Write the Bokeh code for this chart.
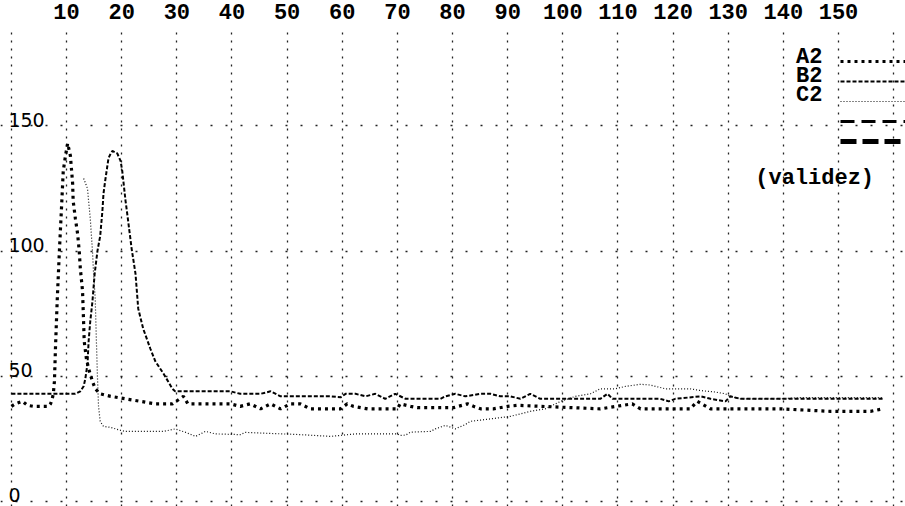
from bokeh.plotting import figure
from bokeh.models import FixedTicker, Legend, LegendItem, Label
from bokeh.core.properties import value
from bokeh.embed import file_html
from bokeh.resources import INLINE

# ---- data ----
x_ticks = [10, 20, 30, 40, 50, 60, 70, 80, 90, 100, 110, 120, 130, 140, 150]
x_grid = [0, 10, 20, 30, 40, 50, 60, 70, 80, 90, 100, 110, 120, 130, 140, 150, 160]
y_ticks = [0, 50, 100, 150]
y_tick_labels = ["0", "50", "100", "150"]

A2_x = [0, 0.7, 2.0, 2.9, 4.0, 6.7, 7.1, 7.4, 7.6, 7.8, 8.0, 8.3, 8.7, 9.1, 9.4, 9.8, 10.2, 10.7, 11.1, 11.2,
        11.6, 12.0, 12.3, 12.5, 12.9, 13.1, 13.2, 13.6, 14.0, 14.7, 15.2, 16.1, 18.0, 20.7, 23.4, 26.1, 29.2,
        31.2, 32.0, 34.3, 39.7, 41.5, 43.3, 45.2, 47.0, 48.8, 50.6, 52.4, 54.2, 59.7, 60.9, 62.0, 64.6, 70.0,
        70.5, 72.4, 73.6, 80.2, 82.7, 83.8, 85.1, 87.4, 90.0, 91.8, 106.8, 112.6, 114.1, 123.1, 124.4, 126.8,
        139.5, 148.5, 155.8, 158.0]
A2_y = [38, 39, 40, 38.4, 38, 38, 39, 41, 43, 48, 62, 80, 100, 118, 132, 138, 143, 138, 127, 120,
        113, 107, 100, 93, 84, 71, 64, 57, 53, 48, 45, 43, 42, 41, 40, 39, 39,
        42, 39, 39, 39, 38, 39, 37, 39, 37, 39, 39, 37, 37, 39, 38, 37, 37,
        39, 38, 37.5, 37.5, 39, 38, 37, 37, 38, 38.4, 37, 39, 37, 37, 40, 37,
        37, 36, 36, 37]

B2_x = [0, 7.1, 11.6, 12.5, 13.1, 13.4, 13.6, 13.8, 14.0, 14.3, 14.7, 15.1, 15.6, 16.1, 16.5, 16.7, 17.0,
        17.4, 17.6, 18.0, 18.3, 19.2, 19.8, 20.1, 20.3, 20.7, 21.0, 21.4, 21.8, 22.5, 23.0, 23.9, 25.2, 26.1,
        27.6, 29.2, 29.7, 39.7, 41.5, 45.2, 47.0, 48.8, 52.4, 57.9, 59.7, 60.6, 62.4, 64.2, 66.0, 67.8, 69.6,
        71.5, 74.2, 77.8, 78.7, 80.5, 82.3, 85.1, 86.9, 88.7, 90.5, 92.3, 94.1, 95.9, 99.6, 105.0, 106.8,
        108.1, 109.0, 117.7, 119.2, 120.4, 125.0, 126.8, 129.5, 130.4, 132.2, 139.5, 146.7, 148.5, 158.0]
B2_y = [43, 43, 43, 44, 46, 49, 52, 55, 64, 72, 80, 91, 100, 106, 116, 123, 128,
        134, 137, 139, 140, 139, 136, 132, 128, 120, 115, 108, 101, 91, 77, 69, 61, 56,
        51, 45, 44, 44, 43, 43, 44, 42, 42, 42, 41.6, 43, 43, 42, 43, 41, 43,
        41, 41, 41, 42, 43, 42, 43, 43, 42, 42, 41, 43, 41, 41, 41, 41,
        43, 41, 41, 40, 41, 42, 41, 40, 42, 41, 41, 41, 41, 41]

C2_x = [13.1, 13.8, 14.0, 14.3, 14.7, 14.9, 15.2, 15.4, 15.6, 15.8, 16.1, 16.7, 18.0, 19.8, 20.7, 27.6,
        29.7, 31.6, 33.4, 35.2, 37.0, 41.5, 42.4, 52.4, 57.9, 59.7, 62.4, 70.0, 70.5, 71.5, 72.4, 76.0, 76.9,
        78.7, 80.5, 82.3, 83.2, 86.9, 90.5, 92.3, 94.1, 96.8, 99.6, 102.3, 105.0, 106.8, 109.5, 111.4, 114.1,
        115.9, 118.6, 123.1, 125.0, 127.7, 129.5, 130.4, 132.2, 134.0, 139.5, 143.1, 158.0]
C2_y = [129, 125, 120, 113, 100, 91, 81, 65, 50, 38, 32, 30, 29.6, 28.4, 28, 28,
        29, 27.6, 26, 28, 27, 26.7, 27.6, 26.7, 26, 26.4, 27, 27, 26.4, 26.5, 27.7, 28, 29,
        30.4, 29, 30.7, 32, 33, 34, 35, 36, 37, 40, 42, 43, 45, 45, 46, 46.8,
        46.5, 45, 45, 44.3, 43.7, 43, 42, 41, 41, 41, 41.5, 41.5]

# two further series listed in the legend without a label and without plotted data
D2_x, D2_y = [float("nan")], [float("nan")]
E2_x, E2_y = [float("nan")], [float("nan")]

series_names = ["A2", "B2", "C2"]
note_text = "(validez)"

p = figure(width=905, height=506, x_range=(-1.98, 162.15), y_range=(-2.0, 187.7),
           output_backend="svg", toolbar_location=None, x_axis_location="above",
           y_axis_location=None, min_border=0, outline_line_color=None,
           background_fill_color="white", border_fill_color="white")

ax = p.xaxis[0]
ax.ticker = FixedTicker(ticks=x_ticks)
ax.axis_line_color = None
ax.major_tick_line_color = None
ax.minor_tick_line_color = None
ax.major_label_standoff = 7
ax.major_label_text_font = "Liberation Mono"
ax.major_label_text_font_style = "bold"
ax.major_label_text_font_size = "22px"
ax.major_label_text_color = "black"

p.xgrid.ticker = FixedTicker(ticks=x_grid)
p.xgrid.grid_line_color = "#222222"
p.xgrid.grid_line_width = 1.3
p.xgrid.grid_line_dash = "2 6"
p.ygrid.ticker = FixedTicker(ticks=y_ticks)
p.ygrid.grid_line_color = "#222222"
p.ygrid.grid_line_width = 1.3
p.ygrid.grid_line_dash = "2 13"

# y tick labels inside the frame at the left
p.text(x=[0] * len(y_ticks), y=y_ticks, text=y_tick_labels, x_offset=-3, y_offset=1,
       text_font=value("DejaVu Sans"), text_font_size="19px", text_color="black",
       text_baseline="bottom", text_align="left")

rA = p.line(A2_x, A2_y, line_color="black", line_width=3.2, line_dash="3 4")
rB = p.line(B2_x, B2_y, line_color="black", line_width=2, line_dash="4 2")
rC = p.line(C2_x, C2_y, line_color="#111111", line_width=1.2, line_dash="1 2")
rD = p.line(D2_x, D2_y, line_color="black", line_width=3, line_dash="14 7")
rE = p.line(E2_x, E2_y, line_color="black", line_width=5, line_dash="16 6")

legend = Legend(items=[LegendItem(label=" ", renderers=[r]) for r in (rA, rB, rC, rD, rE)],
                location=(840, 355), orientation="vertical", glyph_width=66, glyph_height=20,
                label_height=20, spacing=0, padding=0, margin=0, label_standoff=0, label_width=1,
                border_line_color=None, background_fill_alpha=0, label_text_font_size="1px")
p.add_layout(legend, "center")

for name, yv in zip(series_names, [177.3, 169.6, 162.0]):
    p.add_layout(Label(x=147.1, y=yv, text=name, text_font="Liberation Mono", text_font_style="bold",
                       text_font_size="22px", text_align="right", text_baseline="middle",
                       text_color="black"))
p.add_layout(Label(x=134.9, y=128.8, text=note_text, text_font="Liberation Mono", text_font_style="bold",
                   text_font_size="22px", text_align="left", text_baseline="middle",
                   text_color="black"))

open("out.html", "w").write(file_html(p, INLINE))
